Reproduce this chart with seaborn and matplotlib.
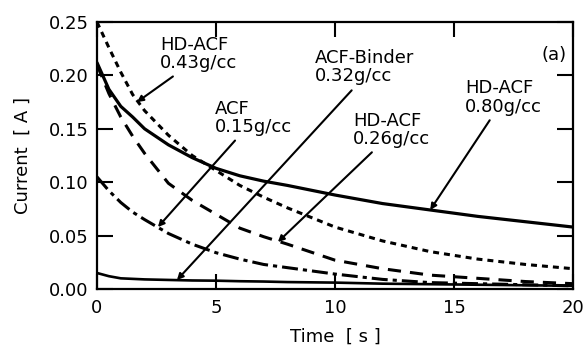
import matplotlib
matplotlib.use("Agg")
import matplotlib.pyplot as plt
import seaborn as sns
import pandas as pd

# ---- data ----
TIME = [0, 0.5, 1, 1.5, 2, 3, 4, 5, 6, 7, 8, 10, 12, 14, 16, 18, 20]

HD_ACF_080 = [0.212, 0.187, 0.171, 0.161, 0.150, 0.135, 0.123, 0.113, 0.106, 0.101,
              0.097, 0.088, 0.080, 0.074, 0.068, 0.063, 0.058]
HD_ACF_043 = [0.250, 0.226, 0.203, 0.182, 0.167, 0.144, 0.125, 0.111, 0.097, 0.086,
              0.076, 0.058, 0.045, 0.035, 0.028, 0.023, 0.019]
HD_ACF_026 = [0.210, 0.183, 0.161, 0.143, 0.127, 0.099, 0.083, 0.070, 0.057, 0.049,
              0.042, 0.027, 0.019, 0.013, 0.010, 0.007, 0.005]
ACF_015 = [0.105, 0.092, 0.081, 0.072, 0.065, 0.052, 0.042, 0.034, 0.028, 0.023,
           0.020, 0.014, 0.009, 0.006, 0.005, 0.004, 0.003]
ACF_BINDER_032 = [0.015, 0.012, 0.010, 0.0095, 0.009, 0.0085, 0.008, 0.0078, 0.0073, 0.007,
                  0.0065, 0.006, 0.005, 0.0045, 0.004, 0.0035, 0.003]

X_TICKS = [0, 5, 10, 15, 20]
Y_TICKS = [0.00, 0.05, 0.10, 0.15, 0.20, 0.25]
X_LABEL = "Time  [ s ]"
Y_LABEL = "Current  [ A ]"
PANEL = "(a)"

sns.set_style("ticks")
plt.rcParams["font.family"] = ["DejaVu Sans"]
plt.rcParams["lines.scale_dashes"] = False
plt.rcParams["text.color"] = "black"
plt.rcParams["axes.labelcolor"] = "black"
plt.rcParams["xtick.color"] = "black"
plt.rcParams["ytick.color"] = "black"

fig = plt.figure(figsize=(5.85, 3.48), dpi=100)
ax = fig.add_axes([0.1658, 0.1695, 0.8137, 0.7673])

series = [
    ("HD-ACF 0.80", HD_ACF_080, "-", 2.3),
    ("HD-ACF 0.43", HD_ACF_043, (0, (4.3, 3.6)), 2.2),
    ("HD-ACF 0.26", HD_ACF_026, (0, (9.5, 6.5)), 2.2),
    ("ACF 0.15", ACF_015, (0, (11.5, 3.6, 3.0, 3.6)), 2.2),
    ("ACF-Binder 0.32", ACF_BINDER_032, "-", 1.9),
]
for name, vals, ls, lw in series:
    df = pd.DataFrame({"t": TIME, "I": vals})
    sns.lineplot(data=df, x="t", y="I", ax=ax, color="black", linestyle=ls,
                 linewidth=lw, legend=False)

ax.set_xlim(0, 20)
ax.set_ylim(0, 0.25)
ax.set_xticks(X_TICKS)
ax.set_xticklabels([str(v) for v in X_TICKS])
ax.set_yticks(Y_TICKS)
ax.set_yticklabels([f"{v:.2f}" for v in Y_TICKS])

for s in ax.spines.values():
    s.set_linewidth(1.6)
    s.set_color("black")
ax.tick_params(axis="x", direction="in", length=10.5, width=1.5, top=True,
               labelsize=13, pad=7, colors="black")
ax.tick_params(axis="y", direction="in", length=11.5, width=1.5, right=True,
               labelsize=13, pad=6, colors="black")

ax.set_xlabel(X_LABEL, fontsize=13, color="black")
ax.set_ylabel(Y_LABEL, fontsize=13, color="black")
ax.xaxis.set_label_coords(0.5, -0.145)
ax.yaxis.set_label_coords(-0.137, 0.5)

# annotations: (text, text_xy, arrow_tail, arrow_head)
notes = [
    ("HD-ACF\n0.43g/cc", (2.65, 0.220), (3.19, 0.199), (1.68, 0.175)),
    ("ACF\n0.15g/cc", (4.96, 0.160), (5.8, 0.139), (2.56, 0.058)),
    ("ACF-Binder\n0.32g/cc", (9.16, 0.208), (10.7, 0.186), (3.36, 0.0084)),
    ("HD-ACF\n0.26g/cc", (10.75, 0.149), (11.55, 0.128), (7.6, 0.044)),
    ("HD-ACF\n0.80g/cc", (15.46, 0.179), (16.5, 0.158), (14.0, 0.074)),
]
for txt, pos, tail, head in notes:
    ax.text(pos[0], pos[1], txt, fontsize=13, ha="left", va="center",
            linespacing=1.05, color="black")
    ax.annotate("", xy=head, xytext=tail,
                arrowprops=dict(arrowstyle="-|>", lw=1.5, color="black",
                                mutation_scale=9, shrinkA=0, shrinkB=0))

ax.text(19.75, 0.2195, PANEL, fontsize=13, ha="right", va="center", color="black")

fig.savefig("out.png", dpi=100)
